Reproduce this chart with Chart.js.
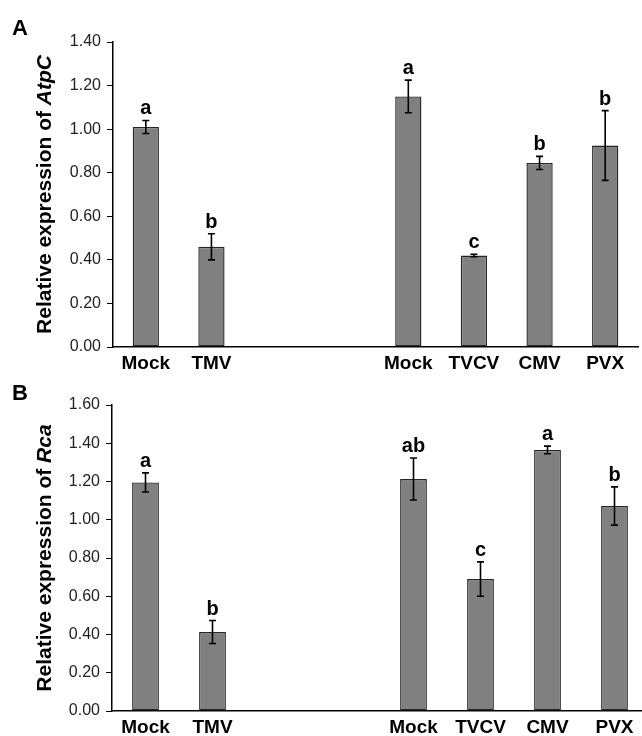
<!DOCTYPE html>
<html>
<head>
<meta charset="utf-8">
<script src="https://cdn.jsdelivr.net/npm/chart.js@4"></script>
<style>
  html, body { margin: 0; padding: 0; background: #fff; overflow: hidden; }
  #wrap { position: relative; width: 642px; height: 736px; overflow: hidden; }
  #chartA { position: absolute; left: 0; top: 0; }
  #chartB { position: absolute; left: 0; top: 370px; }
</style>
</head>
<body>
<div id="wrap">
  <canvas id="chartA" width="642" height="385"></canvas>
  <canvas id="chartB" width="650" height="380"></canvas>
</div>
<script>
// categories (two blank slots make the gap between the two experiments)
var categories = ['Mock', 'TMV', '', '', 'Mock', 'TVCV', 'CMV', 'PVX'];

// panel A - AtpC
var atpcMean = [1.01, 0.46, null, null, 1.15, 0.42, 0.845, 0.925];
var atpcErr = [0.03, 0.06, null, null, 0.075, 0.006, 0.03, 0.16];
var atpcLetters = ['a', 'b', '', '', 'a', 'c', 'b', 'b'];

// panel B - Rca
var rcaMean = [1.195, 0.413, null, null, 1.213, 0.69, 1.365, 1.072];
var rcaErr = [0.05, 0.06, null, null, 0.11, 0.09, 0.02, 0.1];
var rcaLetters = ['a', 'b', '', '', 'ab', 'c', 'a', 'b'];

var FONT = "'Liberation Sans', Arial, sans-serif";

// error bars, significance letters, y title and panel letter
var extras = {
  id: 'extras',
  afterDatasetsDraw: function(chart, args, opts) {
    var ctx = chart.ctx;
    var y = chart.scales.y;
    var meta = chart.getDatasetMeta(0);
    ctx.save();
    ctx.strokeStyle = '#000';
    ctx.lineWidth = 1.6;
    opts.mean.forEach(function(v, i) {
      if (v == null) return;
      var cx = meta.data[i].x;
      var yTop = y.getPixelForValue(v + opts.err[i]);
      var yBot = y.getPixelForValue(v - opts.err[i]);
      ctx.beginPath();
      ctx.moveTo(cx, yTop); ctx.lineTo(cx, yBot);
      ctx.moveTo(cx - 3.5, yTop); ctx.lineTo(cx + 3.5, yTop);
      ctx.moveTo(cx - 3.5, yBot); ctx.lineTo(cx + 3.5, yBot);
      ctx.stroke();
      ctx.fillStyle = '#000';
      ctx.font = 'bold 20px ' + FONT;
      ctx.textAlign = 'center';
      ctx.textBaseline = 'alphabetic';
      ctx.fillText(opts.letters[i], cx, yTop - 6);
    });

    // y axis title with italic gene name
    var area = chart.chartArea;
    ctx.translate(45, (area.top + area.bottom) / 2);
    ctx.rotate(-Math.PI / 2);
    ctx.textBaseline = 'middle';
    ctx.textAlign = 'left';
    var f1 = 'bold 21px ' + FONT, f2 = 'italic bold 21px ' + FONT;
    ctx.font = f1;
    var w1 = ctx.measureText(opts.title).width;
    ctx.font = f2;
    var w2 = ctx.measureText(opts.gene).width;
    var sx = -(w1 + w2) / 2;
    ctx.fillStyle = '#000';
    ctx.font = f1;
    ctx.fillText(opts.title, sx, 0);
    ctx.font = f2;
    ctx.fillText(opts.gene, sx + w1, 0);
    ctx.restore();

    ctx.save();
    ctx.fillStyle = '#000';
    ctx.font = 'bold 22px ' + FONT;
    ctx.textAlign = 'left';
    ctx.textBaseline = 'alphabetic';
    ctx.fillText(opts.panel, 12, opts.panelY);
    ctx.restore();
  }
};

function makeChart(id, mean, err, letters, gene, panel, panelY, maxY, pad, xHeight) {
  return new Chart(document.getElementById(id), {
    type: 'bar',
    data: {
      labels: categories,
      datasets: [{
        data: mean,
        backgroundColor: '#808080',
        borderColor: '#262626',
        borderWidth: 1.4,
        borderSkipped: false,
        barPercentage: 0.4,
        categoryPercentage: 1.0
      }]
    },
    options: {
      responsive: false,
      animation: false,
      events: [],
      layout: { padding: pad },
      plugins: {
        legend: { display: false },
        tooltip: { enabled: false },
        extras: { mean: mean, err: err, letters: letters, title: 'Relative expression of ', gene: gene, panel: panel, panelY: panelY }
      },
      scales: {
        x: {
          grid: { display: false },
          border: { display: true, color: '#000', width: 1.5 },
          ticks: {
            autoSkip: false, maxRotation: 0, padding: -3,
            color: '#000',
            font: { family: FONT, size: 19, weight: 'bold' }
          },
          afterFit: function(s) { s.height = xHeight; }
        },
        y: {
          min: 0, max: maxY,
          grid: { drawOnChartArea: false, drawTicks: true, tickLength: 6, color: '#000' },
          border: { display: true, color: '#000', width: 1.5 },
          ticks: {
            stepSize: 0.2, padding: 6, color: '#222',
            font: { family: FONT, size: 16 },
            callback: function(v) { return v.toFixed(2); }
          },
          afterFit: function(s) { s.width = 60; }
        }
      }
    },
    plugins: [extras]
  });
}

makeChart('chartA', atpcMean, atpcErr, atpcLetters, 'AtpC', 'A', 35, 1.4,
  { left: 53, right: 4, top: 42, bottom: 0 }, 385 - 347);
makeChart('chartB', rcaMean, rcaErr, rcaLetters, 'Rca', 'B', 30, 1.6,
  { left: 52, right: 2, top: 35, bottom: 0 }, 380 - 341);
</script>
</body>
</html>
